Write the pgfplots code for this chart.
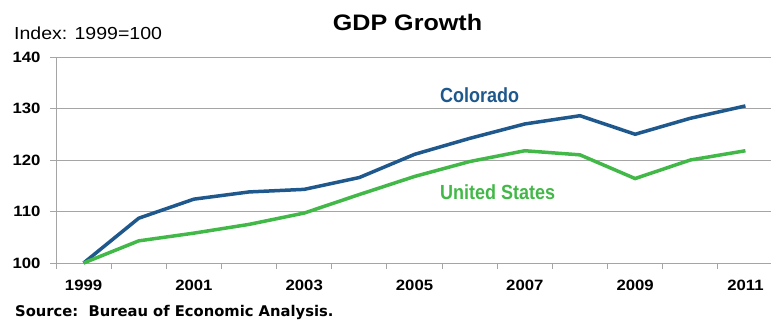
\documentclass[border=0pt]{standalone}
\usepackage{fontspec}
\usepackage{pgfplots}
\pgfplotsset{compat=1.18}
\setmainfont{Liberation Sans}[FakeStretch=1.12]
\newfontfamily\lblfont{Liberation Sans}[FakeStretch=0.88]
\newfontfamily\srcfont{DejaVu Sans}
\definecolor{coblue}{RGB}{31,88,140}
\definecolor{usgreen}{RGB}{66,184,72}
\definecolor{gridgray}{RGB}{165,165,165}
\begin{document}
\begin{tikzpicture}[x=1bp,y=1bp]
\path[use as bounding box] (0,0) rectangle (771,-320);
\begin{axis}[
  scale only axis,
  width=717bp, height=206bp,
  at={(56bp,-263bp)}, anchor=south west,
  xmin=-0.5, xmax=12.5,
  ymin=100, ymax=140,
  ytick={100,110,120,130,140},
  xtick={-0.5,0.5,...,12.5},
  xticklabels={},
  extra x ticks={0,2,4,6,8,10,12},
  extra x tick labels={1999,2001,2003,2005,2007,2009,2011},
  extra x tick style={major tick length=0pt, xticklabel style={yshift=-14bp}},
  axis x line*=bottom,
  axis y line*=left,
  axis line style={gridgray, line width=1bp, -},
  ymajorgrids,
  grid style={gridgray, line width=1bp},
  major tick style={gridgray, line width=1bp},
  tick align=outside,
  major tick length=6bp,
  /pgf/number format/assume math mode=true,
  every tick label/.append style={font=\fontsize{15}{18}\selectfont\bfseries},
  yticklabel style={xshift=-6bp},
  clip=false,
]
\addplot[coblue, line width=3.5bp] coordinates {
(0,100) (1,108.7) (2,112.4) (3,113.8) (4,114.3) (5,116.6) (6,121.1)
(7,124.2) (8,127.0) (9,128.6) (10,125.0) (11,128.1) (12,130.5)};
\addplot[usgreen, line width=3.5bp] coordinates {
(0,100) (1,104.3) (2,105.8) (3,107.5) (4,109.7) (5,113.3) (6,116.8)
(7,119.7) (8,121.8) (9,121.0) (10,116.4) (11,120.0) (12,121.8)};
\end{axis}
\node[anchor=base, inner sep=0] at (407.5,-30) {\fontsize{22.5}{26}\selectfont\bfseries GDP Growth};
\node[anchor=base west, inner sep=0] at (14,-39.3) {\fontsize{17.5}{21}\selectfont Index: 1999=100};
\node[anchor=base west, inner sep=0, text=coblue] at (440,-102.3) {\lblfont\fontsize{20.5}{24}\selectfont\bfseries Colorado};
\node[anchor=base west, inner sep=0, text=usgreen] at (440,-199.3) {\lblfont\fontsize{20.5}{24}\selectfont\bfseries United States};
\node[anchor=base west, inner sep=0] at (15,-316) {\srcfont\fontsize{14.8}{17}\selectfont\bfseries Source:\ \ Bureau of Economic Analysis.};
\end{tikzpicture}
\end{document}
